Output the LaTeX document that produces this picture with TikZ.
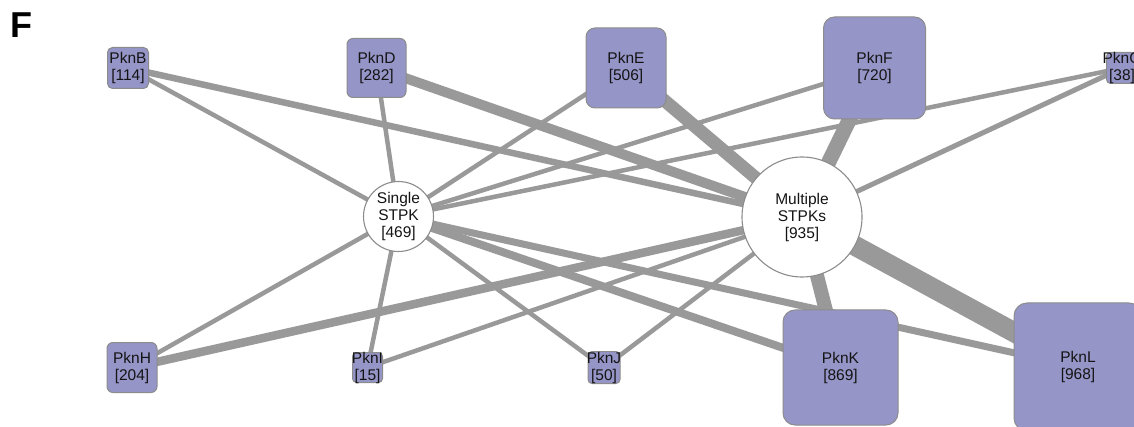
\documentclass[tikz,border=0pt]{standalone}
\usepackage{fontspec}
\setmainfont{Liberation Sans}
\usetikzlibrary{backgrounds}

\definecolor{edgegray}{RGB}{153,153,153}
\definecolor{boxfill}{RGB}{149,149,200}
\definecolor{boxline}{RGB}{140,140,140}
\definecolor{inkcol}{RGB}{20,20,20}

\tikzset{
  link/.style={draw=edgegray, line width=#1pt, line cap=butt},
  pkn/.style 2 args={draw=boxline, fill=boxfill, line width=1pt,
    minimum size=#1pt, inner sep=0pt, rounded corners=#2pt},
  hub/.style={draw=boxline, fill=white, line width=1.1pt, circle,
    minimum size=#1pt, inner sep=0pt},
  txt/.style={align=center, inner sep=0pt, text=inkcol,
    font=\fontsize{15.5}{17}\selectfont},
}

\begin{document}
\begin{tikzpicture}[x=1pt, y=-1pt]
  \useasboundingbox (0,0) rectangle (1134,427);
  \clip (0,0) rectangle (1134,427);

  % panel letter
  \node[anchor=base west, inner sep=0pt, font=\fontsize{36}{40}\selectfont\bfseries]
    (panel) at (10.5,38) {F};

  % kinase boxes, top row
  \node[pkn={41}{5}]   (B) at (128,68) {};
  \node[pkn={59}{6}]   (D) at (376.5,68) {};
  \node[pkn={80}{9}]   (E) at (626,68) {};
  \node[pkn={102}{11}] (F) at (874.5,68) {};
  \node[pkn={31}{4}]   (G) at (1122,68) {};
  % kinase boxes, bottom row
  \node[pkn={50}{6}]   (H) at (132,367.5) {};
  \node[pkn={30}{4}]   (I) at (367.5,367.5) {};
  \node[pkn={32}{4}]   (J) at (604,367.5) {};
  \node[pkn={115}{12}] (K) at (840.5,367.5) {};
  \node[pkn={128}{13}] (L) at (1078,367) {};

  % hubs
  \node[hub=70]  (S) at (398.5,216.5) {};
  \node[hub=120] (M) at (802,217) {};

  % labels
  \node[txt] (Bt) at (B) {PknB\\{[114]}};
  \node[txt] (Dt) at (D) {PknD\\{[282]}};
  \node[txt] (Et) at (E) {PknE\\{[506]}};
  \node[txt] (Ft) at (F) {PknF\\{[720]}};
  \node[txt] (Gt) at (G) {PknG\\{[38]}};
  \node[txt] (Ht) at (H) {PknH\\{[204]}};
  \node[txt] (It) at (I) {PknI\\{[15]}};
  \node[txt] (Jt) at (J) {PknJ\\{[50]}};
  \node[txt] (Kt) at (K) {PknK\\{[869]}};
  \node[txt] (Lt) at (L) {PknL\\{[968]}};
  \node[txt] (St) at (S) {Single\\STPK\\{[469]}};
  \node[txt] (Mt) at (M) {Multiple\\STPKs\\{[935]}};

  \begin{scope}[on background layer]
    \fill[white] (0,0) rectangle (1134,427);
    % links from the single-STPK hub
    \draw[link=4.5] (S.center) -- (B.center);
    \draw[link=4.5] (S.center) -- (D.center);
    \draw[link=4.5] (S.center) -- (E.center);
    \draw[link=4.5] (S.center) -- (F.center);
    \draw[link=4.5] (S.center) -- (G.center);
    \draw[link=4.5] (S.center) -- (H.center);
    \draw[link=4.5] (S.center) -- (I.center);
    \draw[link=4.5] (S.center) -- (J.center);
    \draw[link=8]   (S.center) -- (K.center);
    \draw[link=7]   (S.center) -- (L.center);
    % links from the multiple-STPK hub
    \draw[link=6.5] (M.center) -- (B.center);
    \draw[link=10]  (M.center) -- (D.center);
    \draw[link=13]  (M.center) -- (E.center);
    \draw[link=15]  (M.center) -- (F.center);
    \draw[link=5]   (M.center) -- (G.center);
    \draw[link=8.5] (M.center) -- (H.center);
    \draw[link=4.5] (M.center) -- (I.center);
    \draw[link=4.5] (M.center) -- (J.center);
    \draw[link=14]  (M.center) -- (K.center);
    \draw[link=20]  (M.center) -- (L.center);
  \end{scope}
\end{tikzpicture}
\end{document}
